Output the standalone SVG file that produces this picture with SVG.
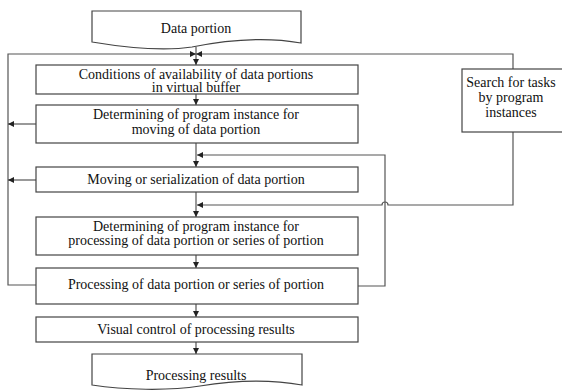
<svg xmlns="http://www.w3.org/2000/svg" width="562" height="390" viewBox="0 0 562 390">
<style>
.box{fill:#fff;stroke:#444;stroke-width:1.2}
.ln{fill:none;stroke:#555;stroke-width:1.2}
text{font-family:"Liberation Serif","Times New Roman",serif;font-size:14px;fill:#111;text-anchor:middle}
</style>
<defs>
<marker id="ah" viewBox="0 0 10 10" refX="10" refY="5" markerWidth="6" markerHeight="6" markerUnits="userSpaceOnUse" orient="auto">
<path d="M0,0 L10,5 L0,10 Z" fill="#222"/>
</marker>
</defs>
<rect width="562" height="390" fill="#fff"/>
<g id="connectors">
<path class="ln" d="M196,47 V65" marker-end="url(#ah)"/>
<path class="ln" d="M36,285 H8 V54 H196" marker-end="url(#ah)"/>
<path class="ln" d="M513,69 V54 H196" marker-end="url(#ah)"/>
<path class="ln" d="M196,94 V105" marker-end="url(#ah)"/>
<path class="ln" d="M36,124 H8" marker-end="url(#ah)"/>
<path class="ln" d="M196,143 V167" marker-end="url(#ah)"/>
<path class="ln" d="M358,286 H385 V155 H197" marker-end="url(#ah)"/>
<path class="ln" d="M36,180 H8" marker-end="url(#ah)"/>
<path class="ln" d="M196,192 V217" marker-end="url(#ah)"/>
<path class="ln" d="M513,132 V205 H388 A3,3 0 0 0 382,205 H197" marker-end="url(#ah)"/>
<path class="ln" d="M196,255 V268" marker-end="url(#ah)"/>
<path class="ln" d="M196,304 V317" marker-end="url(#ah)"/>
<path class="ln" d="M196,342 V354" marker-end="url(#ah)"/>
</g>
<g id="data-portion">
<path class="box" d="M92,11 H301 V43 C262,36 222,41 192,47 C160,52 122,47 92,42 Z"/>
<text x="196" y="33">Data portion</text>
</g>
<g id="conditions">
<rect class="box" x="36" y="65" width="322" height="29"/>
<text x="196" y="78.5">Conditions of availability of data portions</text>
<text x="196" y="92">in virtual buffer</text>
</g>
<g id="determine-moving">
<rect class="box" x="36" y="105" width="322" height="38"/>
<text x="196" y="119">Determining of program instance for</text>
<text x="196" y="134">moving of data portion</text>
</g>
<g id="moving">
<rect class="box" x="36" y="167" width="322" height="25"/>
<text x="196" y="184">Moving or serialization of data portion</text>
</g>
<g id="determine-processing">
<rect class="box" x="36" y="217" width="322" height="38"/>
<text x="196" y="231">Determining of program instance for</text>
<text x="196" y="245">processing of data portion or series of portion</text>
</g>
<g id="processing">
<rect class="box" x="36" y="268" width="322" height="36"/>
<text x="196" y="289">Processing of data portion or series of portion</text>
</g>
<g id="visual-control">
<rect class="box" x="36" y="317" width="322" height="25"/>
<text x="196" y="334">Visual control of processing results</text>
</g>
<g id="processing-results">
<path class="box" d="M92,354 H302 V385 C264,378 230,381 200,386 C168,391 124,390 92,385 Z"/>
<text x="196" y="380">Processing results</text>
</g>
<g id="search-tasks">
<rect class="box" x="462" y="69" width="104" height="63"/>
<text x="511" y="87">Search for tasks</text>
<text x="511" y="102">by program</text>
<text x="511" y="117">instances</text>
</g>
</svg>
